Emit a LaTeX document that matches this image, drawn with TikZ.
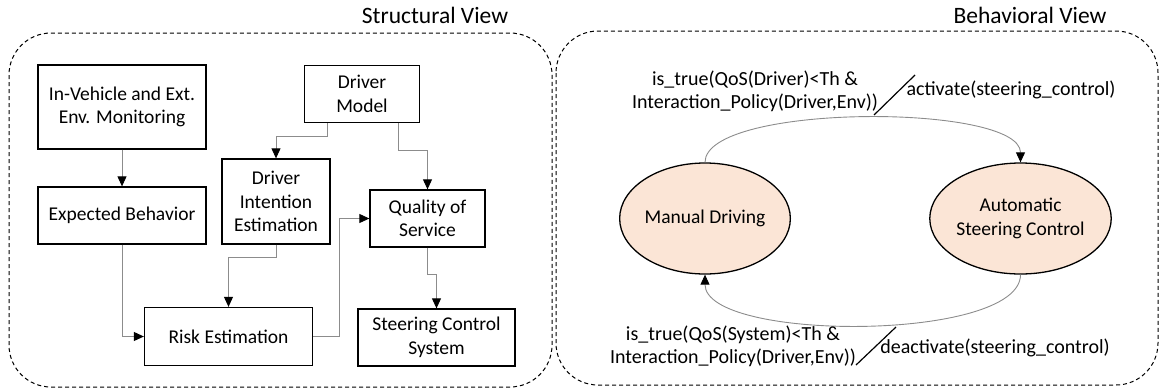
\documentclass[tikz,border=0pt]{standalone}
\usepackage{fontspec}
\setmainfont{Carlito}
\usetikzlibrary{positioning, arrows.meta, calc, shapes.geometric}
\definecolor{peach}{HTML}{FBE5D6}
\definecolor{wire}{HTML}{8C8C8C}

\begin{document}
\begin{tikzpicture}[x=1pt, y=-1pt,
      block/.style={draw=black, line width=1.3pt, fill=white, text=black,
        align=center, inner sep=2pt, font=\fontsize{19.5}{23.5}\selectfont},
      modus/.style={ellipse, draw=black, line width=1.3pt, fill=peach,
        align=center, inner sep=0pt, font=\fontsize{19.5}{23.5}\selectfont,
        minimum width=170pt, minimum height=111pt},
      rahmen/.style={draw=black, line width=1pt, dash pattern=on 4pt off 3pt,
        rounded corners=42pt},
      titel/.style={font=\fontsize{23.5}{26}\selectfont},
      beschr/.style={align=center, font=\fontsize{20}{23}\selectfont},
      pfeil/.style={-{Triangle[color=black, width=9pt, length=10pt]}, wire, line width=0.9pt},
      bogen/.style={-{Triangle[color=black, width=9pt, length=10pt]}, wire, line width=0.9pt}]
    \useasboundingbox (0,0) rectangle (1159,389);
    \draw[rahmen] (9,33) rectangle (552,387);
    \draw[rahmen] (556,31) rectangle (1158,385);
    \node[titel] (tstruct) at (435,15) {Structural View};
    \node[titel] (tbehav) at (1030,15) {Behavioral View};
    \node[block, minimum width=168pt, minimum height=84pt] (inv) at (122,107)
      {In-Vehicle and Ext.\\Env. Monitoring};
    \node[block, minimum width=115pt, minimum height=57pt] (dm) at (362,94)
      {Driver\\Model};
    \node[block, minimum width=168pt, minimum height=57pt] (exp) at (122,215.5)
      {Expected Behavior};
    \node[block, minimum width=108pt, minimum height=85pt] (die) at (276,201.5)
      {Driver\\Intention\\Estimation};
    \node[block, minimum width=115pt, minimum height=57pt] (qos) at (427.5,218.5)
      {Quality of\\Service};
    \node[block, minimum width=168pt, minimum height=58pt] (risk) at (228.5,336.5)
      {Risk Estimation};
    \node[block, minimum width=157pt, minimum height=57pt] (scs) at (436.5,337.5)
      {Steering Control\\System};
    \draw[pfeil] (inv) -- (exp);
    \draw[pfeil] ([xshift=-35pt]dm.south) -- ++(0,13) -| (die);
    \draw[pfeil] ([xshift=36pt]dm.south) -- ++(0,27) -| (qos);
    \draw[pfeil] (exp) |- (risk);
    \draw[pfeil] (die.south) -- ++(0,13) -| (risk);
    \draw[pfeil] (risk.east) -- ++(26,0) |- (qos);
    \draw[pfeil] (qos.south) -- ++(0,27) -| (scs);
    \node[modus] (md) at (705,218.5) {Manual Driving};
    \node[modus] (asc) at (1020.5,218.5) {Automatic\\Steering Control};
    \draw[bogen] (md.north) .. controls (705,103) and (1020.5,103) .. (asc.north);
    \draw[bogen] (asc.south) .. controls (1020.5,342) and (705,342) .. (md.south);
    \node[beschr] (gact) at (755,91)
      {is\_true(QoS(Driver)<Th \&\\Interaction\_Policy(Driver,Env))};
    \node[beschr] (aact) at (1011,90) {activate(steering\_control)};
    \node[beschr] (gdeact) at (733,346)
      {is\_true(QoS(System)<Th \&\\Interaction\_Policy(Driver,Env))};
    \node[beschr] (adeact) at (995,348) {deactivate(steering\_control)};
    \draw[black, line width=1.2pt] (874,115) -- (915,75);
    \draw[black, line width=1.2pt] (856,365) -- (896,327);
  \end{tikzpicture}
\end{document}
